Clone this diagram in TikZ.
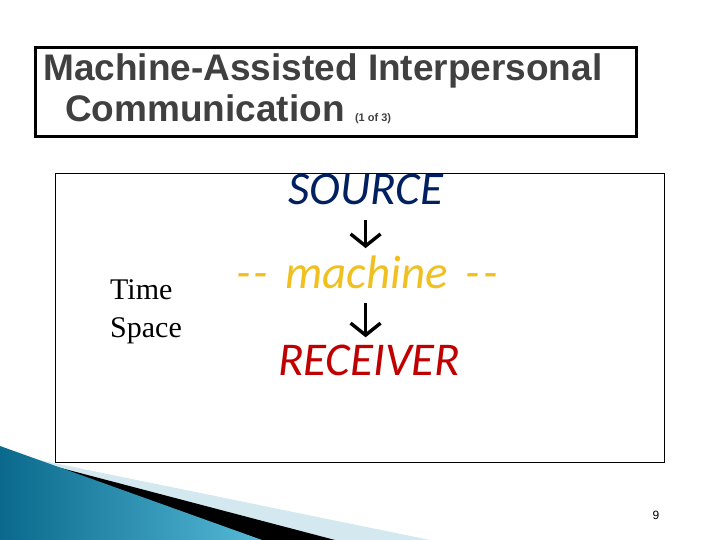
\documentclass[tikz,border=0pt]{standalone}
\usepackage{fontspec}
\setmainfont{Liberation Serif}
\newfontfamily\titlefont{Liberation Sans}
\newfontfamily\calfont{Carlito}
\usepackage{xcolor}
\definecolor{slateGray}{RGB}{64, 64, 64}
\definecolor{sourceBlue}{RGB}{0, 32, 96}
\definecolor{machineGold}{RGB}{240, 192, 32}
\definecolor{receiverRed}{RGB}{192, 0, 0}
\definecolor{tealDark}{RGB}{10, 105, 140}
\definecolor{tealLight}{RGB}{85, 185, 215}
\definecolor{paleBlue}{RGB}{212, 232, 240}
\usepackage{tikz}
\usetikzlibrary{positioning,arrows.meta}

\tikzset{
  flowword/.style={inner sep=0pt, anchor=base west, font=\calfont\itshape\fontsize{47}{56}\selectfont},
  flowarrow/.style={-{Straight Barb[length=12pt,width=30pt]}, line width=3.4pt, shorten <=14pt, shorten >=7pt}
}

\begin{document}
\begin{tikzpicture}[x=1pt, y=-1pt]
\useasboundingbox (0,0) rectangle (720,540);

% bottom left swoosh
\fill[paleBlue] (0,452) -- (430,540) -- (0,540) -- cycle;
\fill[black] (0,452) -- (335,540) -- (0,540) -- cycle;
\shade[left color=tealDark, right color=tealLight] (0,446) -- (262,540) -- (0,540) -- cycle;

% title
\draw[line width=3pt] (35,48) rectangle (636,137);
\node[inner sep=0pt, anchor=base west, align=left, text=slateGray, font=\titlefont\bfseries\fontsize{37}{41}\selectfont] (title) at (43,122)
  {Machine-Assisted Interpersonal\\ \hspace*{22pt}Communication {\fontsize{11}{12}\selectfont (1 of 3)}};

% content box
\draw[line width=1pt] (55,174) rectangle (664,462);
\node[inner sep=0pt, anchor=base west, align=left, font=\fontsize{30}{38}\selectfont] (timespace) at (110,337) {Time\\Space};

\node[flowword, text=sourceBlue] (src) at (288,205) {SOURCE};
\node[flowword, text=machineGold] (mach) at (236,288) {{-}\kern3pt{-}\hspace{7pt} machine\hspace{7pt} {-}\kern3pt{-}};
\node[flowword, text=receiverRed] (rcv) at (278,375) {RECEIVER};

\draw[flowarrow] (src.south) -- (src.south |- mach.north);
\draw[flowarrow] (src.south |- mach.south) -- (src.south |- rcv.north);

% page number
\node[font=\titlefont\fontsize{12}{14}\selectfont] (pagenum) at (656,515) {9};
\end{tikzpicture}
\end{document}
